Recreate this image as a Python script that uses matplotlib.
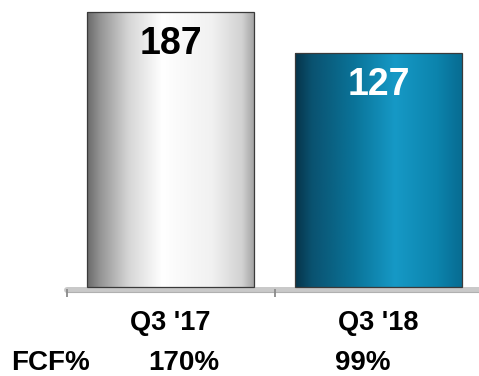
import numpy as np
import matplotlib
matplotlib.use("Agg")
import matplotlib.pyplot as plt
import matplotlib.colors as mcolors

# Data
categories = ["Q3 '17", "Q3 '18"]
values = [187, 127]
fcf_labels = ["170%", "99%"]
fcf_title = "FCF%"

# Scale: the source chart is not zero based, its axis floor sits lower
axis_floor = -215

plt.rcParams['font.family'] = ['Liberation Sans', 'DejaVu Sans']

# Horizontal gradients for the two bars
grad_grey = mcolors.LinearSegmentedColormap.from_list(
    "grey", [(0.0, "#6a6a6a"), (0.08, "#959595"), (0.25, "#d6d6d6"),
             (0.45, "#ffffff"), (0.75, "#f1f1f1"), (0.93, "#d2d2d2"),
             (1.0, "#a5a5a5")])
grad_teal = mcolors.LinearSegmentedColormap.from_list(
    "teal", [(0.0, "#06344a"), (0.1, "#0a5270"), (0.35, "#0a7398"),
             (0.6, "#1699c6"), (0.85, "#0c84ad"), (1.0, "#086c92")])
bar_cmaps = [grad_grey, grad_teal]
label_colors = ["black", "white"]

fig = plt.figure(figsize=(4.79, 3.76), dpi=100)
ax = fig.add_axes([0, 0, 1, 1])
ax.set_xlim(-0.8197, 1.483)
ax.set_ylim(-345.2, 205)
ax.axis("off")

x = np.arange(len(categories))
heights = [v - axis_floor for v in values]
bars = ax.bar(x, heights, width=0.8, bottom=axis_floor,
              facecolor="none", edgecolor="#3a3a3a", linewidth=0.9, zorder=3)

gradient = np.linspace(0, 1, 256).reshape(1, -1)
for rect, cmap in zip(bars, bar_cmaps):
    x0, y0 = rect.get_x(), rect.get_y()
    x1, y1 = x0 + rect.get_width(), y0 + rect.get_height()
    im = ax.imshow(gradient, cmap=cmap, extent=(x0, x1, y0, y1),
                   aspect="auto", interpolation="bicubic", zorder=2)
    im.set_clip_path(rect)

# Baseline band with small category ticks
ax.plot([-0.5, 1.6], [axis_floor - 4.5, axis_floor - 4.5], color="#c9c9c9",
        lw=4.3, solid_capstyle="round", zorder=1)
ax.plot([-0.5, 1.6], [axis_floor - 8, axis_floor - 8], color="#b0b0b0",
        lw=0.8, zorder=1)
ax.vlines([-0.5, 0.5], axis_floor - 3, axis_floor - 15, color="#8a8a8a",
          lw=1.3, zorder=1)

# Value labels inside the bars
for xi, v, c in zip(x, values, label_colors):
    ax.annotate(str(v), (xi, v), xytext=(0, -23), textcoords="offset points",
                ha="center", va="center", fontsize=27, fontweight="bold",
                color=c, zorder=4)

# Category labels
for xi, cat in zip(x, categories):
    ax.annotate(cat, (xi, axis_floor), xytext=(0, -26),
                textcoords="offset points", ha="center", va="center",
                fontsize=19.5, fontweight="bold", color="black")

# FCF% row
fcf_x = [0.065, 0.925]
ax.text(11 / 479, 13 / 376, fcf_title, transform=ax.transAxes, ha="left",
        va="center", fontsize=20, fontweight="bold", color="black")
for fx, lab in zip(fcf_x, fcf_labels):
    ax.annotate(lab, (fx, axis_floor), xytext=(0, -55),
                textcoords="offset points", ha="center", va="center",
                fontsize=20, fontweight="bold", color="black")

fig.savefig("out.png", dpi=100)
